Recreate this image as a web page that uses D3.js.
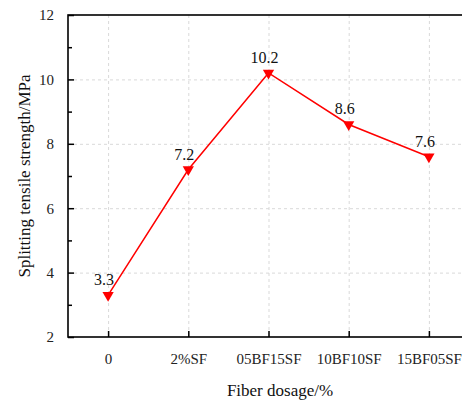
<!DOCTYPE html>
<html>
<head>
<meta charset="utf-8">
<script src="https://cdn.jsdelivr.net/npm/d3@7/dist/d3.min.js"></script>
<style>
  body { margin: 0; background: #fff; }
  svg text { font-family: "Times New Roman", "Liberation Serif", "DejaVu Serif", serif !important; }
</style>
</head>
<body>
<svg id="chart" width="462" height="403"></svg>
<script>
// Data
const categories = ['0', '2%SF', '05BF15SF', '10BF10SF', '15BF05SF'];
const strength = [3.3, 7.2, 10.2, 8.6, 7.6];
const yTicks = [2, 4, 6, 8, 10, 12];
const yMinorTicks = [3, 5, 7, 9, 11];

const width = 462, height = 403;
// plot box runs past the right edge of the picture, like the original
const margin = { top: 15, left: 68, bottom: 337, right: 469 };
const serif = '"Times New Roman", "Liberation Serif", serif';

const svg = d3.select('#chart');

const x = d3.scalePoint()
    .domain(categories)
    .range([margin.left, margin.right])
    .padding(0.5);

const y = d3.scaleLinear()
    .domain([2, 12])
    .range([margin.bottom, margin.top]);

// Grid lines
const grid = svg.append('g').attr('class', 'grid')
    .attr('stroke', '#d9d9d9')
    .attr('stroke-width', 1)
    .attr('stroke-dasharray', '3,3');

grid.selectAll('line.h')
    .data(yTicks.filter(d => d > 2 && d < 12))
    .join('line')
    .attr('class', 'h')
    .attr('x1', margin.left).attr('x2', margin.right)
    .attr('y1', d => y(d) + 0.5).attr('y2', d => y(d) + 0.5);

grid.selectAll('line.v')
    .data(categories)
    .join('line')
    .attr('class', 'v')
    .attr('x1', d => x(d) + 0.5).attr('x2', d => x(d) + 0.5)
    .attr('y1', margin.top).attr('y2', margin.bottom);

// Axes (ticks point inward)
const yAxis = svg.append('g')
    .attr('transform', `translate(${margin.left},0)`)
    .call(d3.axisLeft(y).tickValues(yTicks).tickSize(-6).tickPadding(14).tickFormat(d3.format('d')));

const yMinor = svg.append('g')
    .attr('transform', `translate(${margin.left},0)`)
    .call(d3.axisLeft(y).tickValues(yMinorTicks).tickSize(-4).tickFormat(''));

const xAxis = svg.append('g')
    .attr('transform', `translate(0,${margin.bottom})`)
    .call(d3.axisBottom(x).tickSize(-6).tickPadding(16));

[yAxis, yMinor, xAxis].forEach(g => {
    g.attr('font-family', serif).attr('font-size', 15);
    g.select('.domain').remove();
    g.selectAll('line').attr('stroke', '#000').attr('stroke-width', 1.5);
    g.selectAll('text').attr('fill', '#222');
});

// Frame
svg.append('rect')
    .attr('x', margin.left)
    .attr('y', margin.top)
    .attr('width', margin.right - margin.left)
    .attr('height', margin.bottom - margin.top)
    .attr('fill', 'none')
    .attr('stroke', '#000')
    .attr('stroke-width', 1.6);

// Line
const line = d3.line()
    .x((d, i) => x(categories[i]))
    .y(d => y(d));

svg.append('path')
    .datum(strength)
    .attr('d', line)
    .attr('fill', 'none')
    .attr('stroke', '#ff0000')
    .attr('stroke-width', 1.5);

// Down triangle markers
svg.selectAll('path.marker')
    .data(strength)
    .join('path')
    .attr('class', 'marker')
    .attr('d', d3.symbol().type(d3.symbolTriangle).size(55))
    .attr('transform', (d, i) => `translate(${x(categories[i])},${y(d)}) rotate(180)`)
    .attr('fill', '#ff0000');

// Value labels
svg.selectAll('text.label')
    .data(strength)
    .join('text')
    .attr('class', 'label')
    .attr('x', (d, i) => x(categories[i]) - 4)
    .attr('y', d => y(d) - 10)
    .attr('text-anchor', 'middle')
    .attr('fill', '#111')
    .attr('font-family', serif)
    .attr('font-size', 16)
    .text(d => d.toFixed(1));

// Axis titles
svg.append('text')
    .attr('x', 280)
    .attr('y', 396)
    .attr('text-anchor', 'middle')
    .attr('fill', '#111')
    .attr('font-family', serif)
    .attr('font-size', 17)
    .text('Fiber dosage/%');

svg.append('text')
    .attr('transform', `translate(30,${(margin.top + margin.bottom) / 2}) rotate(-90)`)
    .attr('text-anchor', 'middle')
    .attr('fill', '#111')
    .attr('font-family', serif)
    .attr('font-size', 17)
    .text('Splitting tensile strength/MPa');
</script>
</body>
</html>
